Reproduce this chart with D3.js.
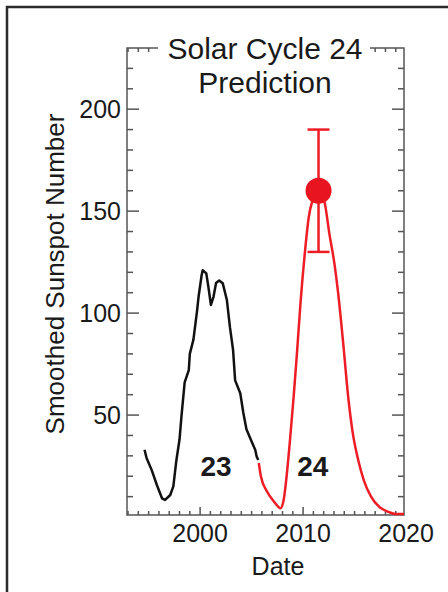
<!DOCTYPE html>
<meta charset="utf-8">
<script src="https://d3js.org/d3.v7.min.js"></script>
<style>
  body { margin: 0; background: #fff; }
  text { font-family: "Liberation Sans", Arial, sans-serif; fill: #1a1a1a; }
</style>
<div id="my_dataviz"></div>
<script>

// cycle 23 (observed, black)
var cycle23Years  = [1994.6, 1994.8, 1995.3, 1995.8, 1996.3, 1996.6, 1997.1, 1997.4, 1997.7, 1998.0, 1998.2, 1998.5, 1998.9, 1999.0, 1999.35, 1999.7, 1999.85, 2000.15, 2000.25, 2000.6, 2000.8, 2001.05, 2001.3, 2001.55, 2001.85, 2002.2, 2002.6, 2002.9, 2003.2, 2003.4, 2003.9, 2004.2, 2004.5, 2005.0, 2005.35, 2005.5, 2005.65];
var cycle23Values = [33, 29, 23, 15.7, 9.2, 8.4, 10.8, 15, 28, 38, 50, 66, 72, 80, 87, 101, 108, 118.7, 121, 119.5, 113, 104, 108, 114.8, 116, 114.6, 106.4, 93, 82, 67, 60.7, 51, 43, 37, 33, 29.6, 28];

// cycle 24 (predicted, red)
var cycle24Years  = [2005.7, 2005.9, 2006.5, 2007.1, 2007.6, 2007.8, 2008.1, 2008.4, 2008.75, 2009.1, 2009.4, 2009.75, 2010.2, 2010.55, 2010.9, 2011.5, 2012.1, 2012.55, 2013.05, 2013.4, 2013.9, 2014.4, 2014.8, 2015.4, 2015.9, 2016.6, 2017.4, 2018.3, 2019.0, 2019.8];
var cycle24Values = [26.5, 20, 12.5, 8, 5, 4.3, 8, 20, 39, 60, 80, 105, 131, 147, 155, 160, 154, 139, 124, 110, 85, 58, 42, 27, 18, 10, 5, 2.5, 1.5, 1.5];

// predicted maximum with range
var peakYear = 2011.5, peakValue = 160, peakLow = 130, peakHigh = 190;

var yTickLabels = [50, 100, 150, 200];
var xTickLabels = [2000, 2010, 2020];
var cycleLabels = [{name: "23", year: 2001.55, value: 20}, {name: "24", year: 2010.95, value: 20}];

var plotLeft = 127, plotRight = 404, plotTop = 48, plotBottom = 515;

var svg = d3.select("#my_dataviz")
  .append("svg")
    .attr("width", 448)
    .attr("height", 592);

// frame (only top and left edges show)
svg.append("path")
  .attr("d", "M7,592V7H448")
  .attr("fill", "none")
  .attr("stroke", "#2b2b2b")
  .attr("stroke-width", 2.5);

var x = d3.scaleLinear().domain([1992.9, 2019.8]).range([plotLeft, plotRight]);
var y = d3.scaleLinear().domain([1, 230]).range([plotBottom, plotTop]);

var axisColor = "#555";

// box
svg.append("rect")
  .attr("x", plotLeft).attr("y", plotTop)
  .attr("width", plotRight - plotLeft).attr("height", plotBottom - plotTop)
  .attr("fill", "none").attr("stroke", axisColor).attr("stroke-width", 1.5);

var g = svg.append("g").attr("stroke", axisColor).attr("stroke-width", 1.5);

// x ticks, inward on bottom and top
d3.range(1993, 2020).forEach(function(yr) {
  var len = (yr % 10 === 0) ? 8 : 4;
  g.append("line").attr("x1", x(yr)).attr("x2", x(yr)).attr("y1", plotBottom).attr("y2", plotBottom - len);
  g.append("line").attr("x1", x(yr)).attr("x2", x(yr)).attr("y1", plotTop).attr("y2", plotTop + len);
});

// y ticks, inward on left and right
d3.range(10, 230, 10).forEach(function(v) {
  var len = (v % 50 === 0) ? 12 : 6;
  g.append("line").attr("x1", plotLeft).attr("x2", plotLeft + len).attr("y1", y(v)).attr("y2", y(v));
  g.append("line").attr("x1", plotRight).attr("x2", plotRight - len).attr("y1", y(v)).attr("y2", y(v));
});

// tick labels
svg.selectAll(".ylab").data(yTickLabels).enter().append("text")
  .attr("x", plotLeft - 6)
  .attr("y", function(d) { return y(d); })
  .attr("dy", "0.36em")
  .attr("text-anchor", "end")
  .style("font-size", "25px")
  .text(function(d) { return d; });

svg.selectAll(".xlab").data(xTickLabels).enter().append("text")
  .attr("x", function(d) { return x(d); })
  .attr("y", 542)
  .attr("text-anchor", "middle")
  .style("font-size", "25px")
  .text(function(d) { return d; });

// axis titles
svg.append("text")
  .attr("x", 278).attr("y", 575)
  .attr("text-anchor", "middle")
  .style("font-size", "25px")
  .text("Date");

svg.append("text")
  .attr("transform", "translate(64,274) rotate(-90)")
  .attr("text-anchor", "middle")
  .style("font-size", "26px")
  .text("Smoothed Sunspot Number");

// title over the top axis
svg.append("rect")
  .attr("x", 158).attr("y", 30).attr("width", 212).attr("height", 70)
  .attr("fill", "#fff");
svg.append("text")
  .attr("x", 265).attr("y", 59)
  .attr("text-anchor", "middle")
  .style("font-size", "30px")
  .text("Solar Cycle 24");
svg.append("text")
  .attr("x", 265).attr("y", 93)
  .attr("text-anchor", "middle")
  .style("font-size", "30px")
  .text("Prediction");

// curves
var line = d3.line()
  .x(function(d) { return x(d[0]); })
  .y(function(d) { return y(d[1]); })
  .curve(d3.curveLinear);

svg.append("path")
  .datum(d3.zip(cycle23Years, cycle23Values))
  .attr("d", line)
  .attr("fill", "none").attr("stroke", "#111").attr("stroke-width", 2.5)
  .attr("stroke-linejoin", "round");

var red = "#ee1c25";
svg.append("path")
  .datum(d3.zip(cycle24Years, cycle24Values))
  .attr("d", line.curve(d3.curveMonotoneX))
  .attr("fill", "none").attr("stroke", red).attr("stroke-width", 2.5);

// error bar and predicted peak
svg.append("line")
  .attr("x1", x(peakYear)).attr("x2", x(peakYear))
  .attr("y1", y(peakLow)).attr("y2", y(peakHigh))
  .attr("stroke", red).attr("stroke-width", 2.5);
[peakLow, peakHigh].forEach(function(v) {
  svg.append("line")
    .attr("x1", x(peakYear) - 11).attr("x2", x(peakYear) + 11)
    .attr("y1", y(v)).attr("y2", y(v))
    .attr("stroke", red).attr("stroke-width", 2.5);
});
svg.append("circle")
  .attr("cx", x(peakYear)).attr("cy", y(peakValue))
  .attr("r", 13)
  .attr("fill", "#e8141f");

// cycle numbers
svg.selectAll(".cyc").data(cycleLabels).enter().append("text")
  .attr("x", function(d) { return x(d.year); })
  .attr("y", function(d) { return y(d.value); })
  .attr("text-anchor", "middle")
  .style("font-size", "28px")
  .style("font-weight", "bold")
  .text(function(d) { return d.name; });

</script>
